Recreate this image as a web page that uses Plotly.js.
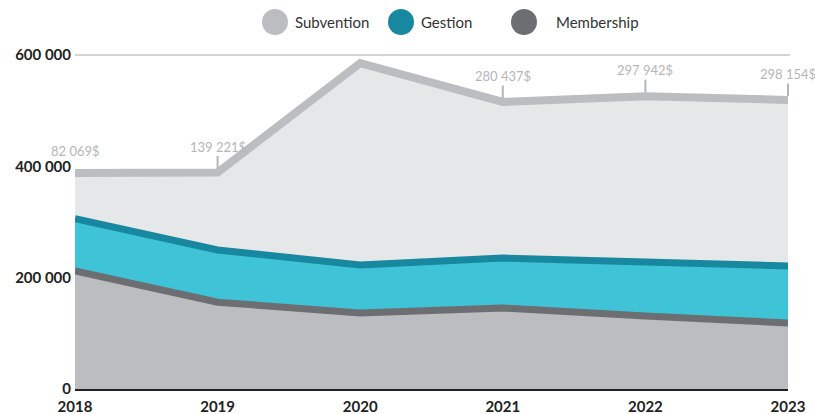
<!DOCTYPE html>
<html><head><meta charset="utf-8">
<script src="https://cdn.plot.ly/plotly-3.0.1.min.js"></script>
<style>html,body{margin:0;padding:0;background:#fff}#chart{width:815px;height:414px}</style>
</head><body><div id="chart"></div>
<script>
const years = [2018, 2019, 2020, 2021, 2022, 2023];
const membership = [212000, 156000, 136500, 145500, 131000, 118600];
const gestion = [94000, 93700, 86300, 89800, 97000, 102400];
const subvention = [82069, 139221, 362800, 280437, 297942, 298154];
const subventionLabels = ["82 069$", "139 221$", "", "280 437$", "297 942$", "298 154$"];
const yTickVals = [0, 200000, 400000, 600000];
const yTickText = ["0", "200 000", "400 000", "600 000"];
const seriesNames = ["Subvention", "Gestion", "Membership"];
const legendColors = ["#bcbdc1", "#17889f", "#6d6e72"];

const traces = [
  {x: years, y: membership, name: "Membership", stackgroup: "s", mode: "lines",
   line: {color: "#6d6e72", width: 7, shape: "linear"}, fillcolor: "#bcbdc1"},
  {x: years, y: gestion, name: "Gestion", stackgroup: "s", mode: "lines",
   line: {color: "#17889f", width: 7}, fillcolor: "#3fc3d7"},
  {x: years, y: subvention, name: "Subvention", stackgroup: "s", mode: "lines",
   line: {color: "#bcbdc1", width: 8}, fillcolor: "#e6e7e9"}
];

const totals = years.map((_, i) => membership[i] + gestion[i] + subvention[i]);
const annotations = [];
years.forEach((yr, i) => {
  if (!subventionLabels[i]) return;
  annotations.push({x: yr, y: totals[i], xref: "x", yref: "y", text: subventionLabels[i],
    showarrow: i > 0, arrowhead: 0, arrowwidth: 2, arrowcolor: "#b5b6b9", ax: 0, ay: -26,
    standoff: 4, yshift: i > 0 ? 0 : 22,
    font: {family: "Lato, sans-serif", size: 13, color: "#b5b6b9"}});
});

// custom legend
const legendX = [275, 401, 524];
const legendTextX = [293, 419, 554];
const shapes = [
  {type: "line", xref: "paper", yref: "paper", x0: 0, x1: 1.003, y0: 1, y1: 1, layer: "below",
   line: {color: "#d4d4d6", width: 2}}
];
seriesNames.forEach((n, i) => {
  shapes.push({type: "circle", xref: "paper", yref: "paper", layer: "above",
    x0: (legendX[i] - 13 - 75) / 713, x1: (legendX[i] + 13 - 75) / 713,
    y0: (389 - 35) / 334, y1: (389 - 9) / 334,
    fillcolor: legendColors[i], line: {width: 0}});
  annotations.push({xref: "paper", yref: "paper", x: (legendTextX[i] - 75) / 713, y: (389 - 22) / 334,
    xanchor: "left", yanchor: "middle", showarrow: false, text: n,
    font: {family: "Lato, sans-serif", size: 15, color: "#333"}});
});

const layout = {
  width: 815, height: 414,
  margin: {l: 75, r: 27, t: 55, b: 25},
  paper_bgcolor: "#fff", plot_bgcolor: "#fff",
  showlegend: false,
  xaxis: {range: [2018, 2023], tickvals: years, ticktext: years.map(String), showgrid: false,
    zeroline: false, showline: false, ticks: "", ticklabelstandoff: 7,
    tickfont: {family: "Lato, sans-serif", size: 15, color: "#222", weight: "bold"}},
  yaxis: {range: [0, 600000], tickvals: yTickVals, ticktext: yTickText, showgrid: false,
    zeroline: true, zerolinecolor: "#222", zerolinewidth: 3,
    showline: false, ticks: "", ticklabelstandoff: 3,
    tickfont: {family: "Lato, sans-serif", size: 15, color: "#222", weight: "bold"}},
  shapes: shapes,
  annotations: annotations
};
Plotly.newPlot("chart", traces, layout, {displayModeBar: false, staticPlot: true});
</script></body></html>
